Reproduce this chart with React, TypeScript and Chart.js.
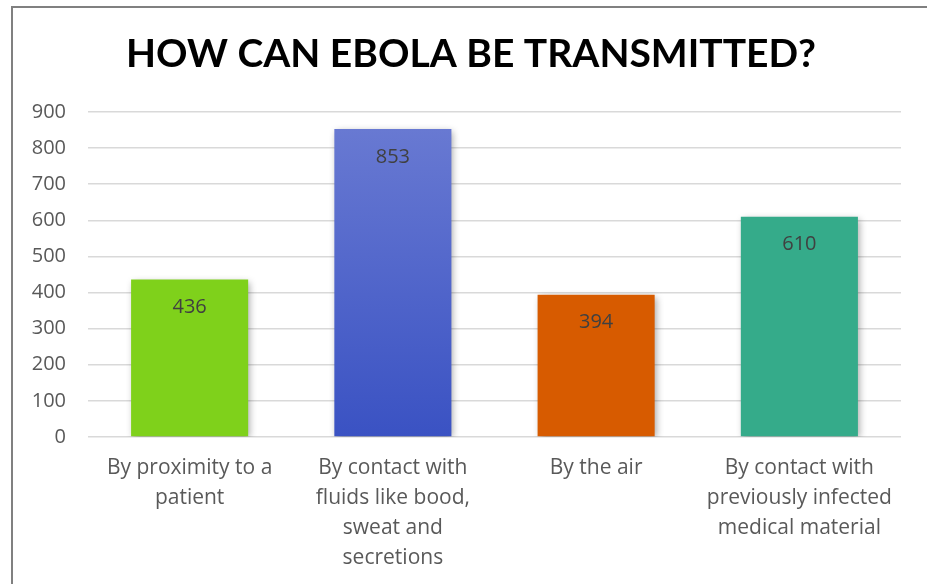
import React, { useEffect, useRef } from "react";
import { Chart, registerables } from "chart.js";

Chart.register(...registerables);

const TITLE = "HOW CAN EBOLA BE TRANSMITTED?";
const CATEGORIES: string[][] = [
  ["By proximity to a", "patient"],
  ["By contact with", "fluids like bood,", "sweat and", "secretions"],
  ["By the air"],
  ["By contact with", "previously infected", "medical material"],
];
const VALUES = [436, 853, 394, 610];
const BAR_COLORS = ["#7fd11b", "blue-gradient", "#d75b00", "#35ab8a"];
const Y_MIN = 0;
const Y_MAX = 900;
const Y_STEP = 100;

const W = 927;
const H = 584;

const titlePlugin = {
  id: "bigTitle",
  afterDraw(chart: any) {
    const ctx = chart.ctx;
    ctx.save();
    ctx.font = "bold 39px Lato";
    ctx.fillStyle = "#000000";
    ctx.textAlign = "center";
    ctx.textBaseline = "middle";
    ctx.fillText(TITLE, 471, 54);
    ctx.restore();
  },
};

const shadowPlugin = {
  id: "barShadow",
  beforeDatasetsDraw(chart: any) {
    const ctx = chart.ctx;
    ctx.save();
    ctx.shadowColor = "rgba(0,0,0,0.35)";
    ctx.shadowBlur = 7;
    ctx.shadowOffsetX = 2;
    ctx.shadowOffsetY = 2;
  },
  afterDatasetsDraw(chart: any) {
    chart.ctx.restore();
  },
};

const valueLabelPlugin = {
  id: "valueLabels",
  afterDatasetsDraw(chart: any) {
    const ctx = chart.ctx;
    const meta = chart.getDatasetMeta(0);
    ctx.save();
    ctx.font = "20px 'Open Sans'";
    ctx.fillStyle = "#404040";
    ctx.textAlign = "center";
    ctx.textBaseline = "middle";
    meta.data.forEach((bar: any, i: number) => {
      ctx.fillText(String(VALUES[i]), bar.x, bar.y + 28);
    });
    ctx.restore();
  },
};

export default function App() {
  const ref = useRef<HTMLCanvasElement>(null);

  useEffect(() => {
    if (!ref.current) return;
    const chart = new Chart(ref.current, {
      type: "bar",
      data: {
        labels: CATEGORIES,
        datasets: [
          {
            data: VALUES,
            backgroundColor: (c: any) => {
              const col = BAR_COLORS[c.dataIndex];
              if (col !== "blue-gradient") return col;
              const area = c.chart.chartArea;
              if (!area) return "#4a62cc";
              const yTop = c.chart.scales.y.getPixelForValue(VALUES[c.dataIndex]);
              const g = c.chart.ctx.createLinearGradient(0, yTop, 0, area.bottom);
              g.addColorStop(0, "#6879d2");
              g.addColorStop(1, "#3a52c3");
              return g;
            },
            borderWidth: 0,
            categoryPercentage: 1,
            barPercentage: 0.576,
          },
        ],
      },
      options: {
        responsive: false,
        animation: false,
        layout: { padding: { top: 112, right: 26, left: 0, bottom: 0 } },
        plugins: {
          legend: { display: false },
          title: { display: false },
          tooltip: { enabled: false },
        },
        scales: {
          x: {
            grid: { display: false, drawTicks: false },
            border: { display: false },
            ticks: {
              color: "#595959",
              font: { family: "'Open Sans'", size: 21, lineHeight: 1.43 },
              padding: 16,
              maxRotation: 0,
              autoSkip: false,
            },
            afterFit(scale: any) {
              scale.height = 147;
            },
          },
          y: {
            min: Y_MIN,
            max: Y_MAX,
            grid: { color: "#d9d9d9", lineWidth: 1.5, drawTicks: false },
            border: { display: false },
            ticks: {
              stepSize: Y_STEP,
              color: "#595959",
              font: { family: "'Open Sans'", size: 20 },
              padding: 22,
            },
            afterFit(scale: any) {
              scale.width = 88;
            },
          },
        },
      },
      plugins: [shadowPlugin, valueLabelPlugin, titlePlugin],
    });
    return () => chart.destroy();
  }, []);

  return (
    <div style={{ position: "absolute", left: 0, top: 0, width: W, height: H, overflow: "hidden", background: "#ffffff" }}>
      <div
        style={{
          position: "absolute",
          left: 11,
          top: 6,
          width: 1200,
          height: 1200,
          border: "2px solid #808080",
        }}
      />
      <canvas ref={ref} width={W} height={H} style={{ position: "absolute", left: 0, top: 0, width: W, height: H }} />
    </div>
  );
}
